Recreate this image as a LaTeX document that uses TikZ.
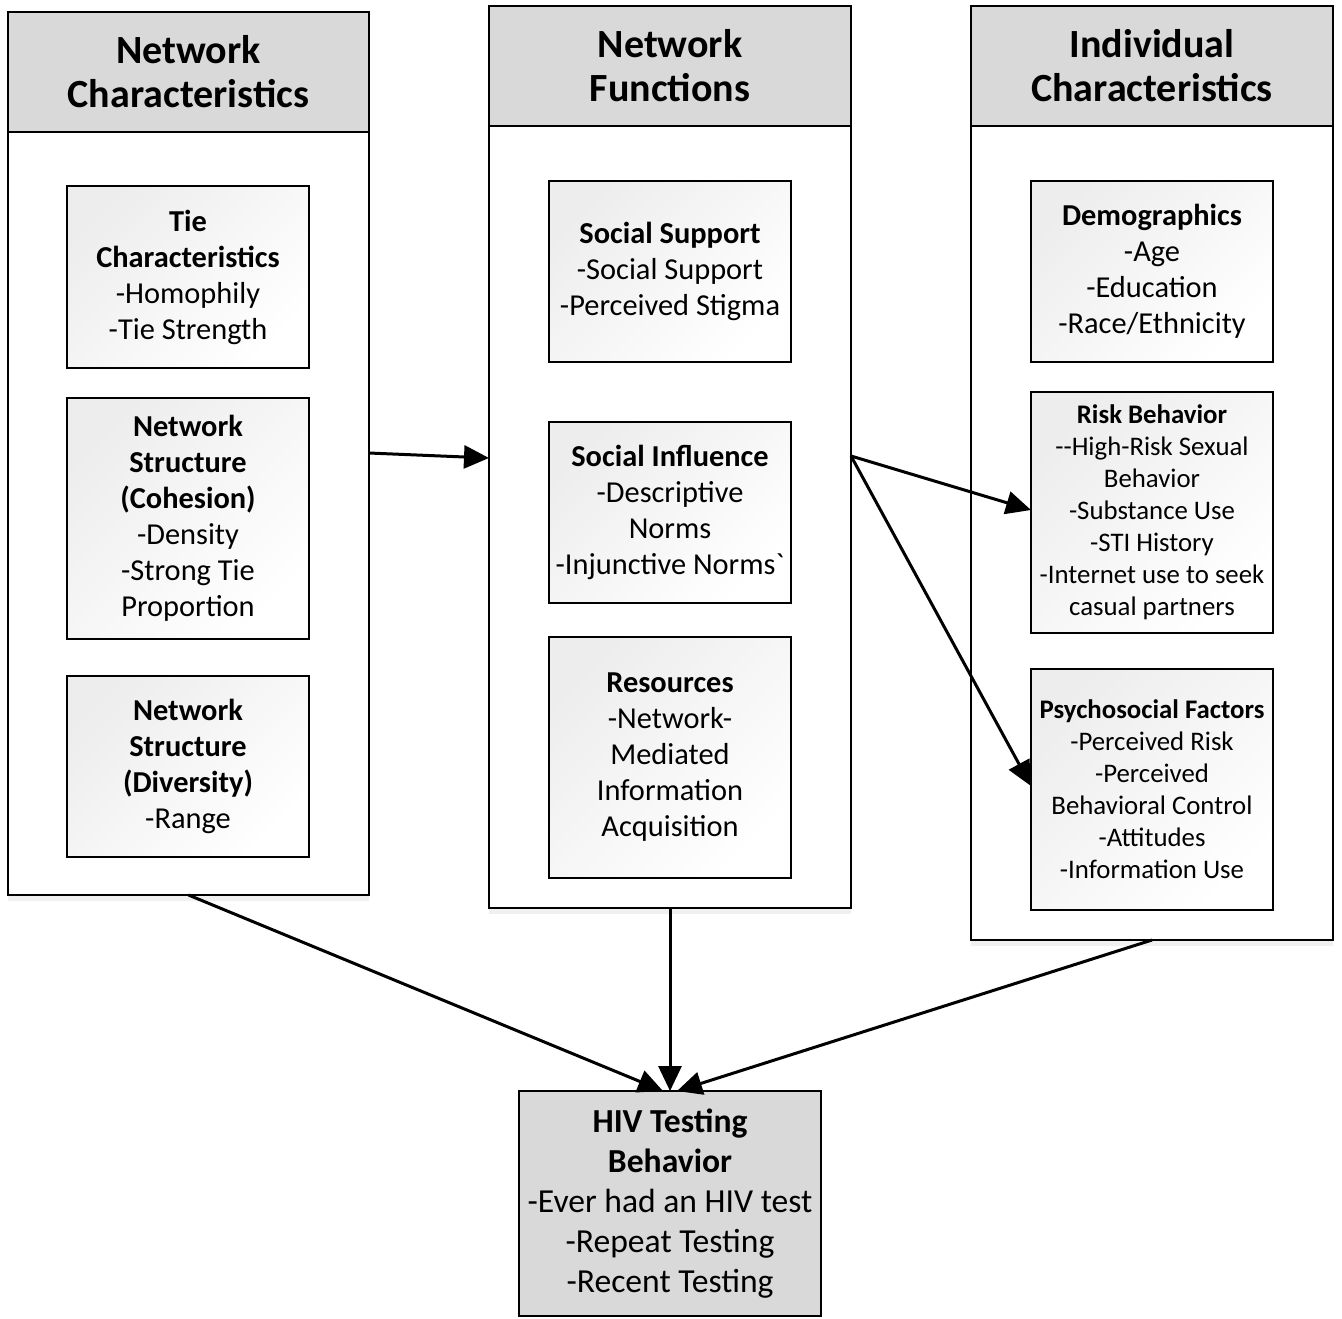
\documentclass[tikz,border=0pt]{standalone}
\usepackage{fontspec}
\setmainfont{Carlito}
\usetikzlibrary{arrows.meta,shadows}
\definecolor{hdr}{HTML}{D9D9D9}
\begin{document}
\begin{tikzpicture}[x=0.5pt,y=-0.5pt,
  outer/.style={draw, line width=1.1pt, fill=white, anchor=north west, inner sep=0pt, outer sep=0pt,
    drop shadow={shadow xshift=0pt, shadow yshift=-3pt, opacity=0.12}},
  header/.style={draw, line width=1.1pt, fill=hdr, anchor=north west, inner sep=0pt, outer sep=0pt,
    align=center, minimum height=60pt, font=\fontsize{20}{22}\selectfont\bfseries},
  inbox/.style={draw, line width=1pt, top color=black!7, bottom color=white, shading angle=45,
    anchor=north west, inner sep=0pt, outer sep=0pt, align=center, minimum width=121pt,
    font=\fontsize{15.2}{18}\selectfont},
  smallbox/.style={inbox, font=\fontsize{13.4}{16}\selectfont},
  arr/.style={line width=1.5pt, -{Triangle[length=12.5pt,width=11.5pt]}}]
\useasboundingbox (0,0) rectangle (1342,1318);

% outer columns
\node[outer, minimum width=180.5pt, minimum height=441.5pt] (L) at (8,12) {};
\node[outer, minimum width=181pt, minimum height=451pt] (M) at (489,6) {};
\node[outer, minimum width=181pt, minimum height=467pt] (R) at (971,6) {};

% headers
\node[header, minimum width=180.5pt] (Lh) at (8,12) {Network\\Characteristics};
\node[header, minimum width=181pt] (Mh) at (489,6) {Network\\Functions};
\node[header, minimum width=181pt] (Rh) at (971,6) {Individual\\Characteristics};

% left inner boxes
\node[inbox, minimum height=91pt] (tie) at (67,186)
  {\textbf{Tie}\\\textbf{Characteristics}\\-Homophily\\-Tie Strength};
\node[inbox, minimum height=120.5pt] (coh) at (67,398)
  {\textbf{Network}\\\textbf{Structure}\\\textbf{(Cohesion)}\\-Density\\-Strong Tie\\Proportion};
\node[inbox, minimum height=90.5pt] (div) at (67,676)
  {\textbf{Network}\\\textbf{Structure}\\\textbf{(Diversity)}\\-Range};

% middle inner boxes
\node[inbox, minimum height=90.5pt] (ss) at (549,181)
  {\textbf{Social Support}\\-Social Support\\-Perceived Stigma};
\node[inbox, minimum height=90.5pt] (si) at (549,422)
  {\textbf{Social Influence}\\-Descriptive\\Norms\\-Injunctive Norms\textasciigrave};
\node[inbox, minimum height=120.5pt] (res) at (549,637)
  {\textbf{Resources}\\-Network-\\Mediated\\Information\\Acquisition};

% right inner boxes
\node[inbox, minimum height=90.5pt] (dem) at (1031,181)
  {\textbf{Demographics}\\-Age\\-Education\\-Race/Ethnicity};
\node[smallbox, minimum height=120.5pt] (rb) at (1031,392)
  {\textbf{Risk Behavior}\\-{}-High-Risk Sexual\\Behavior\\-Substance Use\\-STI History\\-Internet use to seek\\casual partners};
\node[smallbox, minimum height=120.5pt] (ps) at (1031,669)
  {\textbf{Psychosocial Factors}\\-Perceived Risk\\-Perceived\\Behavioral Control\\-Attitudes\\-Information Use};

% outcome box
\node[draw, line width=1.1pt, fill=hdr, anchor=north west, inner sep=0pt, outer sep=0pt, align=center,
  minimum width=151pt, minimum height=112.5pt, font=\fontsize{16.8}{20}\selectfont] (hiv) at (519,1091)
  {\textbf{HIV Testing}\\\textbf{Behavior}\\-Ever had an HIV test\\-Repeat Testing\\-Recent Testing};

% connectors
\draw[arr] (L.east |- 0,453) -- (M.west |- 0,458);
\draw[arr] (M.east |- 0,456) -- (rb.west |- 0,510);
\draw[arr] (M.east |- 0,456) -- (ps.west |- 0,786);
\draw[arr] (L.south) -- ([xshift=-3.5pt]hiv.north);
\draw[arr] (M.south) -- (hiv.north);
\draw[arr] (R.south) -- ([xshift=3.5pt]hiv.north);
\end{tikzpicture}
\end{document}
